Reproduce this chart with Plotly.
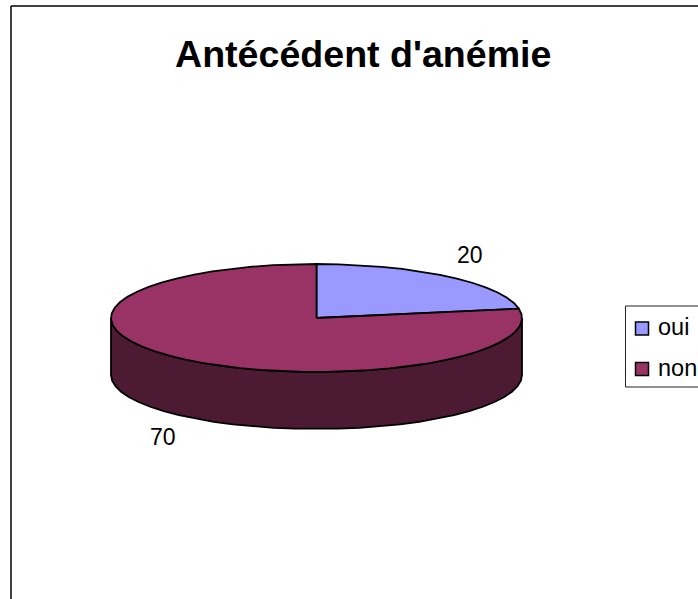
"""
Camembert 3D : antécédent d'anémie
"""
import numpy as np
import plotly.graph_objects as go

TITLE = "Antécédent d'anémie"
labels = ["oui", "non"]
values = [20, 70]
colors = ["#9999FF", "#993366"]
side_color = "#4C1A33"

FONT = "Liberation Sans, Arial, sans-serif"

# géométrie de l'ellipse, en pixels de la page
cx, cy = 316.5, 318
rx, ry = 205.5, 54
depth = 57


def rim(start, stop, dy=0.0, step=6.0):
    """Points du bord de l'ellipse; angles en degrés depuis le haut, sens horaire"""
    n = max(2, int(abs(stop - start) / step) + 1)
    a = np.radians(np.linspace(start, stop, n))
    return cx + rx * np.sin(a), cy - ry * np.cos(a) + dy


fig = go.Figure()

# flanc visible du cylindre
xa, ya = rim(90, 270)
xb, yb = rim(270, 90, dy=depth)
fig.add_trace(go.Scatter(
    x=np.concatenate([xa, xb, xa[:1]]),
    y=np.concatenate([ya, yb, ya[:1]]),
    mode="lines",
    fill="toself",
    fillcolor=side_color,
    line=dict(color="black", width=1.8),
    showlegend=False,
    hoverinfo="skip"
))

# parts du dessus, calculées à partir des valeurs
angle = 0.0
total = sum(values)
for label, value, color in zip(labels, values, colors):
    stop = angle + 360.0 * value / total
    xs, ys = rim(angle, stop)
    fig.add_trace(go.Scatter(
        x=np.concatenate([[cx], xs, [cx]]),
        y=np.concatenate([[cy], ys, [cy]]),
        mode="lines",
        fill="toself",
        fillcolor=color,
        line=dict(color="black", width=1.8),
        name=label,
        showlegend=False
    ))
    angle = stop

annotations = [
    dict(x=362.5, y=54, text=TITLE, font=dict(size=37.6, weight=700, color="black", family=FONT)),
    dict(x=470, y=255, text=str(values[0]), font=dict(size=23, color="black", family=FONT)),
    dict(x=163, y=437, text=str(values[1]), font=dict(size=23, color="black", family=FONT)),
]

# cadre du graphique et légende
shapes = [
    dict(type="line", x0=11, y0=6, x1=698, y1=6, line=dict(color="black", width=1.5)),
    dict(type="line", x0=11, y0=6, x1=11, y1=599, line=dict(color="black", width=1.5)),
    dict(type="rect", x0=625.5, y0=306, x1=700, y1=387, line=dict(color="#222222", width=1), fillcolor="white"),
]
for i, (label, color) in enumerate(zip(labels, colors)):
    top = 322 + i * 40.5
    shapes.append(dict(type="rect", x0=635.5, y0=top, x1=648.5, y1=top + 13,
                       fillcolor=color, line=dict(color="black", width=1.5)))
    annotations.append(dict(x=655.5, y=top + 5, xanchor="left", text=label,
                            font=dict(size=23.5, color="black", family=FONT)))

for a in annotations:
    a.update(xref="x", yref="y", showarrow=False)
for s in shapes:
    s.update(xref="x", yref="y", layer="above" if s["type"] == "rect" else "below")

fig.update_layout(
    width=698,
    height=599,
    margin=dict(l=0, r=0, t=0, b=0),
    paper_bgcolor="white",
    plot_bgcolor="white",
    xaxis=dict(range=[0, 698], visible=False, fixedrange=True),
    yaxis=dict(range=[599, 0], visible=False, fixedrange=True),
    annotations=annotations,
    shapes=shapes,
    showlegend=False
)

# la page ajoute 8 px de marge par défaut
fig.write_html("out.html", config=dict(displayModeBar=False),
               post_script="document.body.style.margin='0';document.body.style.overflow='hidden';")
